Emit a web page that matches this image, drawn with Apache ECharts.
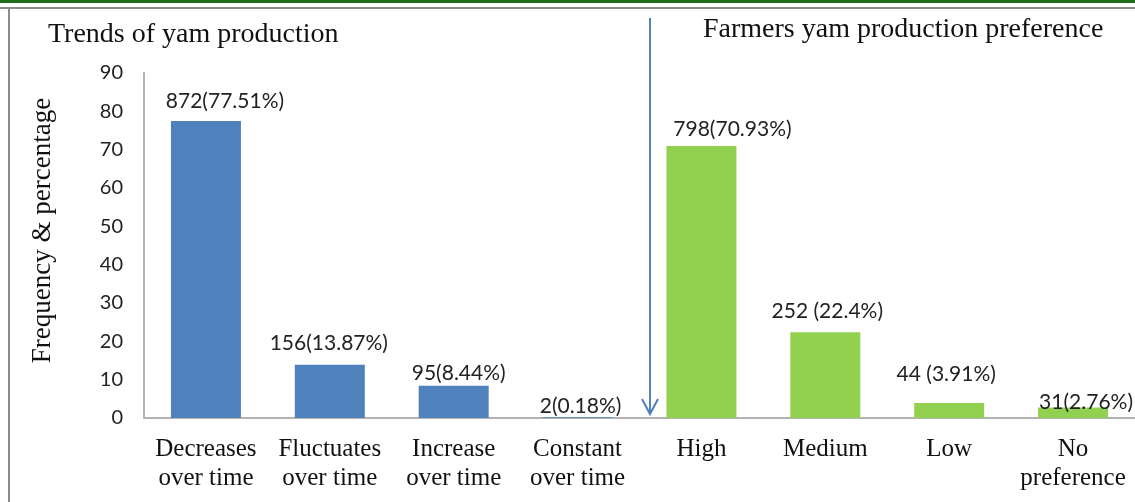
<!DOCTYPE html>
<html>
<head>
<meta charset="utf-8">
<script src="https://cdn.jsdelivr.net/npm/echarts@6/dist/echarts.min.js"></script>
<style>
  html, body { margin: 0; padding: 0; background: #fff; }
  #chart { width: 1135px; height: 502px; }
</style>
</head>
<body>
<div id="chart"></div>
<script>
// categories along the x axis
var categories = ['Decreases\nover time', 'Fluctuates\nover time', 'Increase\nover time', 'Constant\nover time',
  'High', 'Medium', 'Low', 'No\npreference']
// percentages (bar heights)
var percents = [77.51, 13.87, 8.44, 0.18, 70.93, 22.4, 3.91, 2.76]
// text above each bar
var barLabels = ['872(77.51%)', '156(13.87%)', '95(8.44%)', '2(0.18%)',
  '798(70.93%)', '252 (22.4%)', '44 (3.91%)', '31(2.76%)']
// which group each bar belongs to
var groups = ['trend', 'trend', 'trend', 'trend', 'pref', 'pref', 'pref', 'pref']
var yTicks = [0, 10, 20, 30, 40, 50, 60, 70, 80, 90]

var groupColor = { trend: '#4f81bd', pref: '#92d050' }
// labels were nudged by hand in the original, keep that look
var labelNudge = [[19, 0], [-1, -2], [5, 7], [3, 8], [31, 3], [2, -1], [-3, -9], [13, 14]]

var chart = echarts.init(document.getElementById('chart'))

chart.setOption({
  animation: false,
  grid: {
    left: 144,
    right: 0,
    top: 73,
    bottom: 84
  },
  xAxis: {
    type: 'category',
    data: categories,
    axisTick: { show: false },
    axisLine: { lineStyle: { color: '#b3b3b3', width: 2 } },
    axisLabel: {
      interval: 0,
      margin: 17,
      fontFamily: 'Liberation Serif',
      fontSize: 25,
      lineHeight: 29,
      color: '#111'
    }
  },
  yAxis: {
    type: 'value',
    min: yTicks[0],
    max: yTicks[yTicks.length - 1],
    interval: 10,
    name: 'Frequency & percentage',
    nameLocation: 'middle',
    nameGap: 88,
    nameTextStyle: {
      fontFamily: 'Liberation Serif',
      fontSize: 27,
      color: '#111',
      padding: [0, 0, 0, 30]
    },
    splitLine: { show: false },
    axisTick: { show: false },
    axisLine: { show: true, lineStyle: { color: '#b3b3b3', width: 2 } },
    axisLabel: {
      margin: 21,
      fontFamily: 'Lato',
      fontSize: 20,
      color: '#222'
    }
  },
  series: [
    {
      type: 'bar',
      barWidth: 70,
      data: percents.map(function (v, i) {
        return {
          value: v,
          itemStyle: { color: groupColor[groups[i]] },
          label: { formatter: barLabels[i], offset: labelNudge[i] }
        }
      }),
      label: {
        show: true,
        position: 'top',
        distance: 9,
        fontFamily: 'Lato',
        fontSize: 21,
        color: '#222'
      }
    }
  ],
  graphic: [
    // frame lines
    { type: 'rect', shape: { x: 0, y: 0, width: 1135, height: 3 }, style: { fill: '#1e6b1e' } },
    { type: 'rect', shape: { x: 0, y: 7, width: 1135, height: 2 }, style: { fill: '#8c8c8c' } },
    { type: 'rect', shape: { x: 8, y: 8, width: 2, height: 494 }, style: { fill: '#8c8c8c' } },
    // panel titles
    {
      type: 'text', left: 48, top: 21,
      style: { text: 'Trends of yam production', font: '28px "Liberation Serif"', fill: '#111' }
    },
    {
      type: 'text', left: 703, top: 16,
      style: { text: 'Farmers yam production preference', font: '28px "Liberation Serif"', fill: '#111' }
    },
    // divider arrow
    {
      type: 'line',
      shape: { x1: 650, y1: 18, x2: 650, y2: 414 },
      style: { stroke: '#4f81bd', lineWidth: 2 }
    },
    {
      type: 'polyline',
      shape: { points: [[642, 399], [650, 414], [658, 399]] },
      style: { stroke: '#4f81bd', lineWidth: 2, fill: null }
    }
  ]
})
</script>
</body>
</html>
